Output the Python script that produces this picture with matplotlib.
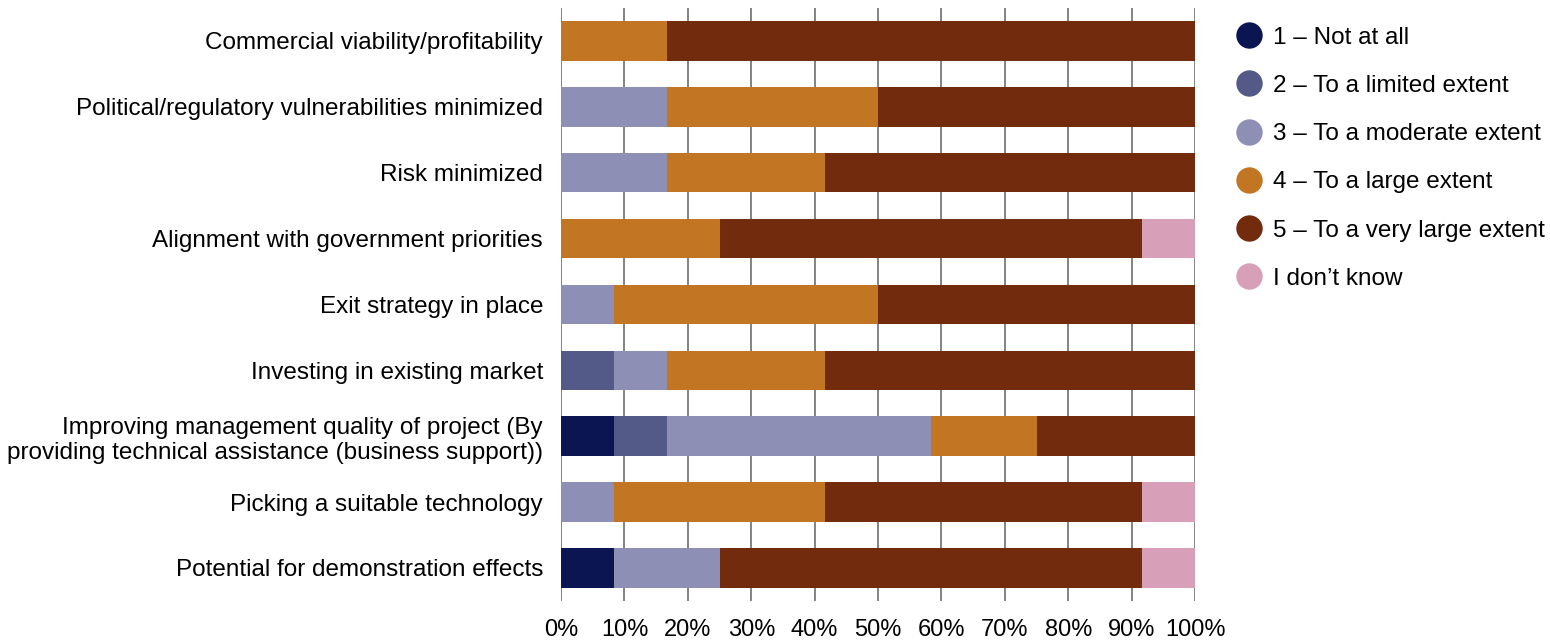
import matplotlib
matplotlib.use("Agg")
import matplotlib.pyplot as plt
from matplotlib.lines import Line2D
import numpy as np

plt.rcParams['font.family'] = ['Liberation Sans', 'DejaVu Sans']

categories = [
    "Commercial viability/profitability",
    "Political/regulatory vulnerabilities minimized",
    "Risk minimized",
    "Alignment with government priorities",
    "Exit strategy in place",
    "Investing in existing market",
    "Improving management quality of project (By\nproviding technical assistance (business support))",
    "Picking a suitable technology",
    "Potential for demonstration effects",
]

series_names = [
    "1 – Not at all",
    "2 – To a limited extent",
    "3 – To a moderate extent",
    "4 – To a large extent",
    "5 – To a very large extent",
    "I don’t know",
]

# Share of respondents (%) per category, one list per answer level
not_at_all = [0, 0, 0, 0, 0, 0, 8.33, 0, 8.33]
limited    = [0, 0, 0, 0, 0, 8.33, 8.33, 0, 0]
moderate   = [0, 16.67, 16.67, 0, 8.33, 8.33, 41.67, 8.33, 16.67]
large      = [16.67, 33.33, 25.0, 25.0, 41.67, 25.0, 16.67, 33.33, 0]
very_large = [83.33, 50.0, 58.33, 66.67, 50.0, 58.33, 25.0, 50.0, 66.67]
dont_know  = [0, 0, 0, 8.33, 0, 0, 0, 8.33, 8.33]

colors = ["#0b1551", "#535a87", "#8e8fb5", "#c27522", "#732b0e", "#d8a0b8"]

xticks = [0, 10, 20, 30, 40, 50, 60, 70, 80, 90, 100]
xtick_labels = [f"{t}%" for t in xticks]

fig = plt.figure(figsize=(15.5, 6.42), dpi=100)
ax = fig.add_axes([0.362, 0.064, 0.409, 0.9235])

y = np.arange(len(categories))
left = np.zeros(len(categories))
for vals, col in zip([not_at_all, limited, moderate, large, very_large, dont_know], colors):
    vals = np.array(vals)
    ax.barh(y, vals, left=left, height=0.6, color=col, edgecolor='none', zorder=3)
    left += vals

ax.set_xlim(0, 100)
ax.set_ylim(len(categories) - 0.5, -0.5)
ax.set_yticks(y)
ax.set_yticklabels(categories, fontsize=17.5)
ax.set_xticks(xticks)
ax.set_xticklabels(xtick_labels, fontsize=17)
ax.tick_params(axis='y', length=0, pad=13)
ax.tick_params(axis='x', length=0, pad=13)
ax.grid(axis='x', color='#6e6e6e', linewidth=1.2, zorder=0)
for s in ax.spines.values():
    s.set_visible(False)

handles = [Line2D([0], [0], marker='o', linestyle='none', markersize=19,
                  markerfacecolor=c, markeredgecolor='none') for c in colors]
fig.legend(handles, series_names, loc='upper left', bbox_to_anchor=(0.786, 0.985),
           frameon=False, fontsize=17.5, handletextpad=0.45, labelspacing=1.08,
           handlelength=1.1, borderaxespad=0.3)

fig.savefig("out.png", dpi=100)
